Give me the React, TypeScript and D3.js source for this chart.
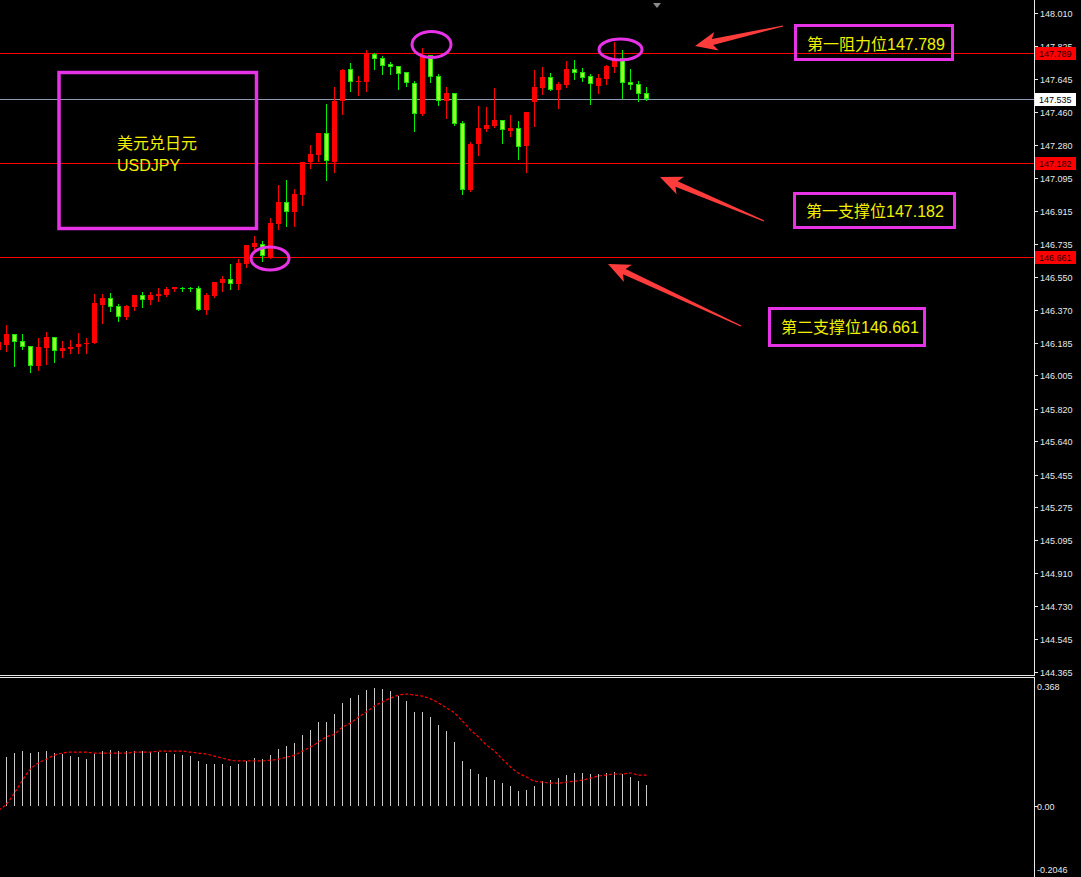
import React from "react";
import * as d3 from "d3";

// ---- data ----
const opens = [146.147,146.175,146.236,146.197,146.169,146.060,146.158,146.219,146.143,146.153,146.160,146.179,146.182,146.396,146.435,146.390,146.326,146.386,146.451,146.424,146.446,146.451,146.484,146.490,146.490,146.490,146.368,146.446,146.517,146.540,146.512,146.622,146.716,146.733,146.661,146.844,146.965,146.910,147.004,147.186,147.225,147.347,147.186,147.524,147.700,147.629,147.629,147.783,147.761,147.728,147.717,147.684,147.623,147.452,147.778,147.662,147.524,147.568,147.402,147.032,147.286,147.369,147.385,147.419,147.358,147.374,147.275,147.518,147.595,147.656,147.584,147.612,147.700,147.684,147.662,147.606,147.645,147.712,147.761,147.629,147.618,147.568];
const highs = [146.202,146.285,146.236,146.236,146.169,146.213,146.247,146.219,146.197,146.202,146.241,146.213,146.457,146.457,146.462,146.401,146.396,146.451,146.468,146.468,146.490,146.495,146.495,146.495,146.495,146.501,146.462,146.523,146.556,146.622,146.650,146.728,146.777,146.750,146.877,147.059,147.087,147.037,147.186,147.280,147.347,147.507,147.601,147.700,147.734,147.662,147.806,147.789,147.772,147.739,147.717,147.684,147.634,147.817,147.778,147.673,147.601,147.568,147.413,147.297,147.496,147.490,147.595,147.419,147.446,147.413,147.463,147.695,147.712,147.678,147.629,147.745,147.750,147.706,147.673,147.673,147.723,147.850,147.806,147.700,147.634,147.601];
const lows = [146.136,146.143,146.055,146.153,146.022,146.033,146.071,146.077,146.105,146.132,146.132,146.127,146.182,146.298,146.363,146.309,146.320,146.368,146.385,146.401,146.418,146.446,146.473,146.473,146.473,146.368,146.346,146.440,146.473,146.484,146.484,146.606,146.700,146.639,146.656,146.816,146.833,146.833,146.949,147.153,147.192,147.087,147.131,147.452,147.579,147.557,147.579,147.700,147.673,147.673,147.590,147.606,147.358,147.446,147.629,147.501,147.430,147.391,147.009,147.026,147.225,147.358,147.380,147.291,147.330,147.203,147.131,147.385,147.562,147.584,147.485,147.601,147.645,147.634,147.507,147.568,147.618,147.684,147.540,147.590,147.524,147.529];
const closes = [146.193,146.236,146.193,146.165,146.060,146.164,146.219,146.138,146.158,146.164,146.180,146.187,146.407,146.435,146.385,146.326,146.390,146.451,146.424,146.451,146.457,146.484,146.495,146.484,146.487,146.368,146.451,146.523,146.540,146.512,146.628,146.728,146.739,146.667,146.849,146.965,146.910,147.009,147.186,147.231,147.347,147.192,147.524,147.695,147.629,147.634,147.783,147.756,147.717,147.712,147.673,147.623,147.452,147.778,147.656,147.524,147.568,147.396,147.032,147.286,147.374,147.391,147.419,147.363,147.374,147.269,147.463,147.601,147.656,147.584,147.618,147.700,147.678,147.651,147.618,147.651,147.717,147.756,147.623,147.612,147.562,147.535];

const macdValues = [0.130,
  0.145,0.157,0.163,0.157,0.160,0.163,0.157,0.154,0.148,0.145,0.139,0.154,0.163,0.166,0.163,0.163,0.163,0.163,0.160,0.160,0.157,0.154,0.151,0.148,0.134,0.125,0.125,0.125,0.119,0.125,0.134,0.142,0.139,0.151,0.169,0.178,0.187,0.211,0.226,0.249,0.249,
  0.273,0.306,0.320,0.329,0.344,0.350,0.347,0.341,0.326,0.312,0.279,0.279,0.264,0.240,0.223,0.190,0.134,0.110,0.095,0.086,0.077,0.068,0.059,0.045,0.047,0.059,0.074,0.077,0.083,0.092,0.098,0.098,0.095,0.095,0.098,0.101,0.095,0.086,0.074,0.062];
const signalValues = [-0.012,
  0.006,0.039,0.077,0.110,0.128,0.139,0.151,0.157,0.160,0.160,0.160,0.157,0.157,0.157,0.157,0.157,0.160,0.160,0.160,0.163,0.163,0.163,0.163,0.160,0.157,0.154,0.148,0.142,0.136,0.134,0.134,0.134,0.134,0.136,0.139,0.145,0.151,0.163,0.175,0.190,0.205,
  0.214,0.234,0.246,0.264,0.279,0.297,0.309,0.320,0.329,0.332,0.329,0.326,0.318,0.306,0.291,0.276,0.252,0.226,0.205,0.181,0.163,0.139,0.116,0.098,0.086,0.074,0.071,0.068,0.068,0.071,0.074,0.077,0.083,0.089,0.092,0.095,0.095,0.098,0.092,0.092];

const priceTicks = ["148.010","147.825","147.645","147.460","147.280","147.095","146.915","146.735","146.550","146.370","146.185","146.005","145.820","145.640","145.455","145.275","145.095","144.910","144.730","144.545","144.365"];
const macdTicks = ["0.368","0.00","-0.2046"];
const levelValues = [147.789, 147.182, 146.661];
const levelLabels = ["第一阻力位147.789", "第一支撑位147.182", "第二支撑位146.661"];
const lastPrice = 147.535;
const titleLines = ["美元兑日元", "USDJPY"];

// ---- layout / style ----
const W = 1081, H = 877;
const AXIS_X = 1034;
const FONT = "'Liberation Sans', 'Noto Sans CJK SC', Arial, sans-serif";
const RED = "#ff0000";
const GREEN_FILL = "#9cff2e";
const GREEN_EDGE = "#1fe000";
const MAGENTA = "#e633e6";
const YELLOW = "#f0f000";
const ARROW = "#ff3c3c";

const boxes = [
  { x: 795.5, y: 25.5, w: 157, h: 34, tx: 807, ty: 50 },
  { x: 794.5, y: 193.5, w: 160, h: 34, tx: 806, ty: 217 },
  { x: 769.5, y: 308.5, w: 155, h: 37, tx: 781, ty: 333 },
];
const arrows = [
  { x1: 783, y1: 26, x2: 695, y2: 46 },
  { x1: 764, y1: 221, x2: 660, y2: 177 },
  { x1: 741, y1: 326, x2: 608, y2: 264 },
];
const ellipses = [
  { cx: 431.5, cy: 44.5, rx: 19.5, ry: 13 },
  { cx: 620.5, cy: 49.5, rx: 21.5, ry: 10.5 },
  { cx: 270, cy: 258.5, rx: 19, ry: 11.5 },
];

function arrowPath(a: { x1: number; y1: number; x2: number; y2: number }) {
  const dx = a.x2 - a.x1, dy = a.y2 - a.y1;
  const L = Math.hypot(dx, dy);
  const ux = dx / L, uy = dy / L;
  const nx = -uy, ny = ux;
  const P = (t: number, w: number) => [a.x1 + ux * t + nx * w, a.y1 + uy * t + ny * w];
  const pts = [P(0, 0.6), P(L - 18, 3), P(L - 22, 9.5), P(L, 0), P(L - 22, -9.5), P(L - 18, -3), P(0, -0.6)];
  return "M" + pts.map((p) => p[0].toFixed(1) + "," + p[1].toFixed(1)).join("L") + "Z";
}

export default function App() {
  const n = opens.length;
  const x = d3.scaleLinear().domain([0, n - 1]).range([-2, 646]);
  const y = d3.scaleLinear().domain([144.365, 148.01]).range([672, 13]);
  const ym = d3.scaleLinear().domain([-0.2046, 0.368]).range([875, 682]);
  const py = (v: number) => Math.round(y(v));

  const signalLine = d3
    .line<number>()
    .x((_, i) => x(i) + 0.5)
    .y((d) => ym(d))
    .curve(d3.curveMonotoneX)(signalValues);

  const candles = opens.map((o, i) => {
    const c = closes[i];
    const up = c >= o;
    const cx = Math.round(x(i));
    const yTop = py(Math.max(o, c));
    const yBot = py(Math.min(o, c));
    const yH = py(highs[i]);
    const yL = py(lows[i]);
    const bh = yBot - yTop;
    const wickColor = up ? RED : "#00f000";
    return (
      <g key={i}>
        <rect x={cx} y={yH} width={1} height={yL - yH + 1} fill={wickColor} />
        {bh <= 1 ? (
          <rect x={cx - 2} y={yTop} width={5} height={1} fill={wickColor} />
        ) : up ? (
          <rect x={cx - 2} y={yTop} width={5} height={bh} fill={RED} />
        ) : (
          <rect x={cx - 1.5} y={yTop + 0.5} width={4} height={bh - 1} fill={GREEN_FILL} stroke={GREEN_EDGE} strokeWidth={1} />
        )}
      </g>
    );
  });

  const zeroY = Math.round(ym(0));

  return (
    <div style={{ width: W, height: H, background: "#000", overflow: "hidden" }}>
      <style>{`html,body{margin:0;padding:0;background:#000;}`}</style>
      <svg width={W} height={H} style={{ display: "block", background: "#000" }} fontFamily={FONT}>
        <rect x={0} y={0} width={W} height={H} fill="#000" />

        {/* main panel */}
        <g shapeRendering="crispEdges">
          <rect x={0} y={py(lastPrice)} width={AXIS_X} height={1} fill="#8a9bb0" />
          {levelValues.map((v, i) => (
            <rect key={i} x={0} y={py(v)} width={AXIS_X} height={1} fill={RED} />
          ))}
          {candles}
        </g>

        {/* MACD panel */}
        <g>
          {macdValues.map((v, i) => (
            <rect key={i} x={Math.round(x(i))} y={Math.round(ym(v))} width={1} height={zeroY - Math.round(ym(v))} fill="#c8c8c8" shapeRendering="crispEdges" />
          ))}
          <path d={signalLine || ""} fill="none" stroke={RED} strokeWidth={1.2} strokeDasharray="3,2" />
        </g>

        {/* frames */}
        <g shapeRendering="crispEdges" fill="#e8e8e8">
          <rect x={AXIS_X} y={0} width={1} height={676} />
          <rect x={0} y={675} width={AXIS_X + 1} height={1} />
          <rect x={AXIS_X} y={677} width={1} height={H - 677} />
          <rect x={0} y={677} width={AXIS_X + 1} height={1} />
        </g>

        {/* price axis */}
        <g fontSize={9} fill="#e8e8e8">
          {priceTicks.map((t) => {
            const yy = py(+t);
            return (
              <g key={t}>
                <rect x={AXIS_X + 1} y={yy} width={3} height={1} fill="#e8e8e8" />
                <text x={1040} y={yy + 0.5} dy="0.35em">{t}</text>
              </g>
            );
          })}
          {levelValues.map((v, i) => {
            const yy = py(v);
            return (
              <g key={"lv" + i}>
                <rect x={AXIS_X + 1} y={yy} width={3} height={1} fill={RED} />
                <rect x={1035} y={yy - 6} width={41} height={13} fill={RED} />
                <text x={1039} y={yy + 0.5} dy="0.35em" fill="#1a0000">{v.toFixed(3)}</text>
              </g>
            );
          })}
          {(() => {
            const yy = py(lastPrice);
            return (
              <g>
                <rect x={1035} y={yy - 6} width={41} height={13} fill="#ffffff" />
                <text x={1039} y={yy + 0.5} dy="0.35em" fill="#000">{lastPrice.toFixed(3)}</text>
              </g>
            );
          })()}
        </g>

        {/* MACD axis */}
        <g fontSize={9} fill="#e8e8e8">
          {macdTicks.map((t, i) => {
            const yy = i === 0 ? 686 : i === 2 ? 869 : zeroY;
            return (
              <g key={t}>
                {i === 1 && <rect x={AXIS_X + 1} y={yy} width={3} height={1} fill="#e8e8e8" />}
                <text x={1037} y={yy + 0.5} dy="0.35em">{t}</text>
              </g>
            );
          })}
        </g>

        {/* shift marker */}
        <path d="M653,3 L661,3 L657,8 Z" fill="#8a8a8a" />

        {/* annotations */}
        <rect x={59} y={72.5} width={197.5} height={156} fill="none" stroke={MAGENTA} strokeWidth={3.5} />
        <g fill={YELLOW} fontSize={16}>
          <text x={117} y={149}>{titleLines[0]}</text>
          <text x={117} y={171}>{titleLines[1]}</text>
        </g>
        {ellipses.map((e, i) => (
          <ellipse key={i} cx={e.cx} cy={e.cy} rx={e.rx} ry={e.ry} fill="none" stroke={MAGENTA} strokeWidth={3} />
        ))}
        {arrows.map((a, i) => (
          <path key={i} d={arrowPath(a)} fill={ARROW} />
        ))}
        {boxes.map((b, i) => (
          <g key={i}>
            <rect x={b.x} y={b.y} width={b.w} height={b.h} fill="none" stroke={MAGENTA} strokeWidth={3} />
            <text x={b.tx} y={b.ty} fill={YELLOW} fontSize={16}>{levelLabels[i]}</text>
          </g>
        ))}
      </svg>
    </div>
  );
}
